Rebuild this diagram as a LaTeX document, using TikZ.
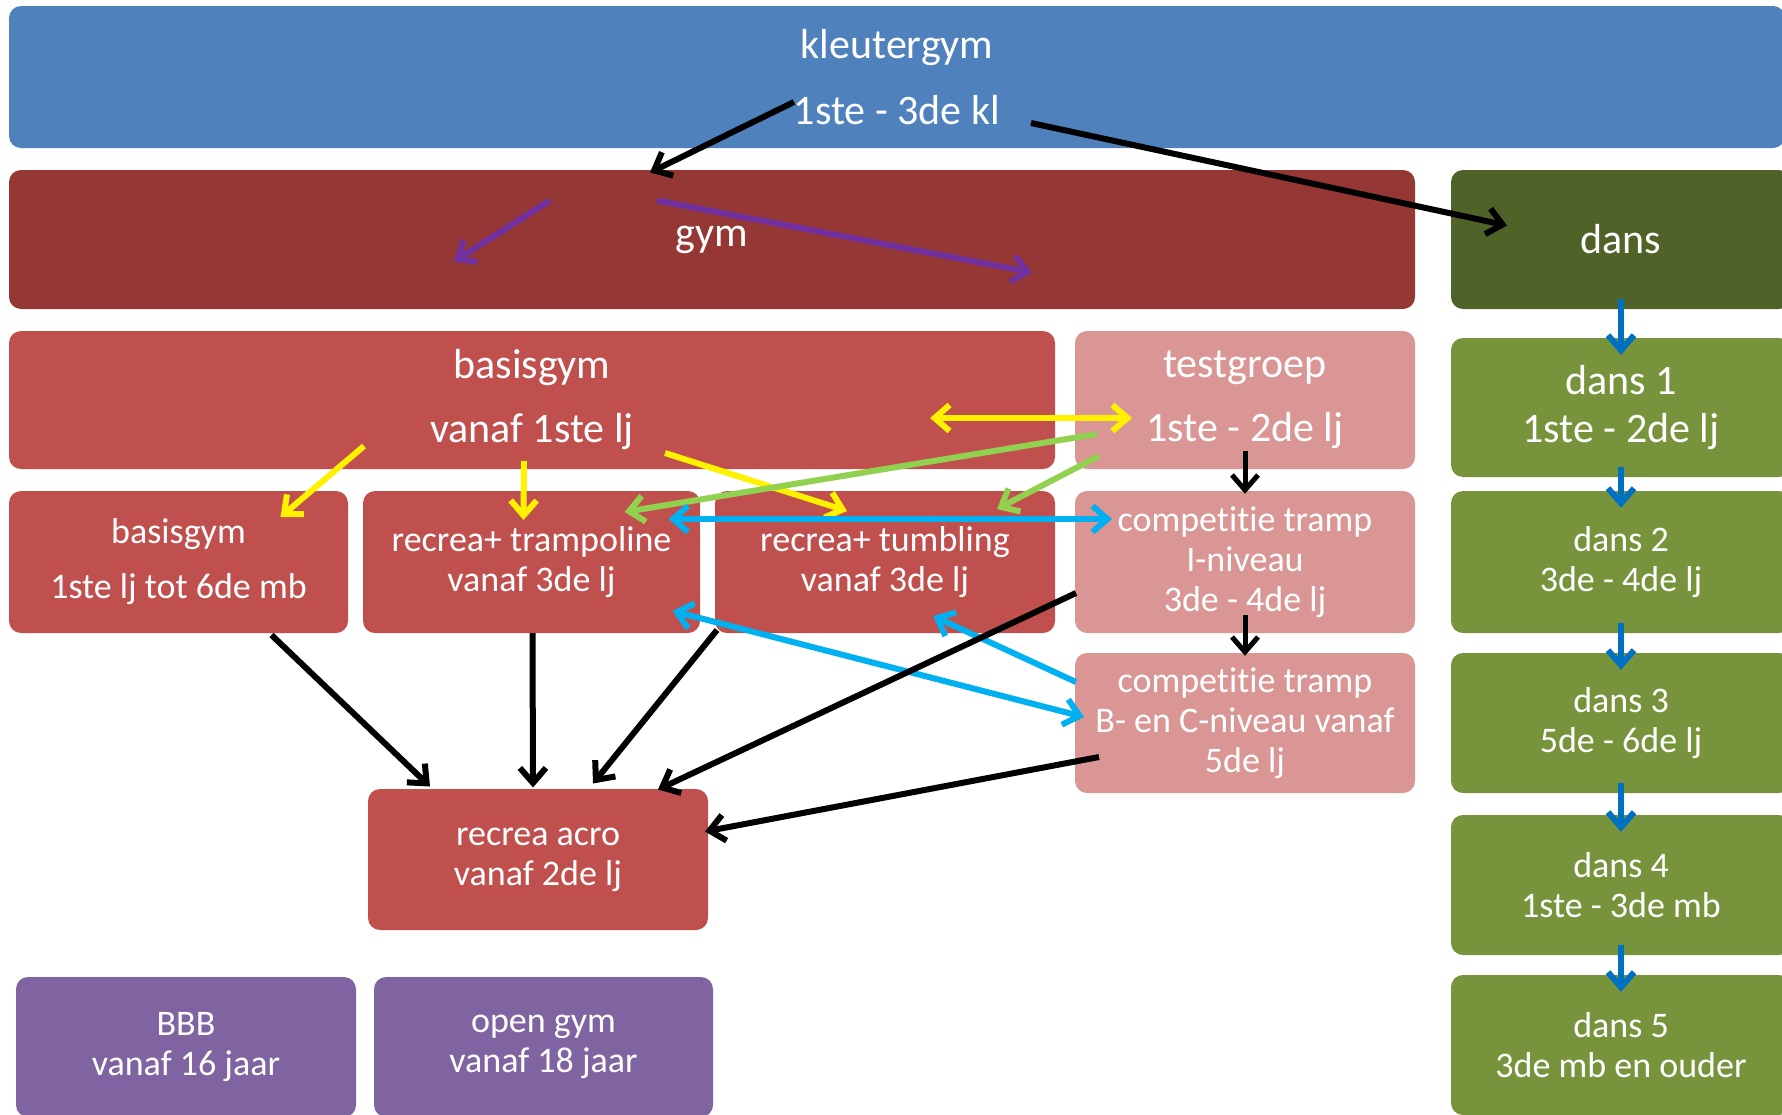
\documentclass[tikz,border=0pt]{standalone}
\usepackage{fontspec}
\setmainfont[Ligatures=NoCommon]{Carlito}
\usetikzlibrary{graphs}
\usetikzlibrary{arrows.meta}

\definecolor{klblue}{HTML}{4F81BD}
\definecolor{gymred}{HTML}{953735}
\definecolor{dansgreen}{HTML}{4F6228}
\definecolor{basisred}{HTML}{C0504D}
\definecolor{testpink}{HTML}{D99694}
\definecolor{levelgreen}{HTML}{77933C}
\definecolor{oldpurple}{HTML}{8064A2}
\definecolor{arrpurple}{HTML}{7030A0}
\definecolor{arrgreen}{HTML}{92D050}
\definecolor{arrcyan}{HTML}{00B0F0}
\definecolor{arrblue}{HTML}{0070C0}

\newcommand\bigtxt{\fontsize{42}{48}\selectfont}
\newcommand\smalltxt{\fontsize{36}{40}\selectfont}

\begin{document}
\begin{tikzpicture} [x=1pt, y=-1pt,
        every node/.style={rounded corners=12pt, text=white, align=center, inner sep=0pt,
            minimum width=340pt, minimum height=140pt, font=\smalltxt},
        big/.style={font=\bigtxt},
        bluebox/.style={fill=klblue},
        gymbox/.style={fill=gymred},
        dansbox/.style={fill=dansgreen},
        redbox/.style={fill=basisred},
        pinkbox/.style={fill=testpink},
        greenbox/.style={fill=levelgreen},
        purplebox/.style={fill=oldpurple},
        >={Straight Barb[length=15pt,width=26pt]},
        blackarr/.style={draw=black, line width=6pt},
        purplearr/.style={draw=arrpurple, line width=6pt},
        yellowarr/.style={draw=yellow, line width=6pt},
        greenarr/.style={draw=arrgreen, line width=6pt},
        cyanarr/.style={draw=arrcyan, line width=6pt}]
            \useasboundingbox (0,0) rectangle (1782,1114);
            \clip (0,0) rectangle (1782,1114);

            \node[bluebox, big, minimum width=1776pt, minimum height=142pt] (kl) at (897, 77) {kleutergym\\[18pt]1ste - 3de kl};
            \node[gymbox, big, minimum width=1406pt, minimum height=139pt] (gym) at (712, 239.5) {gym};
            \node[dansbox, big, minimum height=139pt] (dans) at (1621, 239.5) {dans};

            \node[redbox, big, minimum width=1046pt, minimum height=138pt] (basis) at (532, 400) {basisgym\\[16pt]vanaf 1ste lj};
            \node[pinkbox, big, minimum height=138pt] (test) at (1245, 400) {testgroep\\[16pt]1ste - 2de lj};
            \node[greenbox, big, minimum height=139pt] (d1) at (1621, 407.5) {dans 1\\1ste - 2de lj};

            \node[redbox, minimum width=339pt, minimum height=142pt] (bg) at (178.5, 562) {basisgym\\[15pt]1ste lj tot 6de mb};
            \node[redbox, minimum width=337pt, minimum height=142pt] (tramp) at (531.5, 562) {recrea+ trampoline\\vanaf 3de lj};
            \node[redbox, minimum height=142pt] (tumb) at (885, 562) {recrea+ tumbling\\vanaf 3de lj};
            \node[pinkbox, minimum height=142pt] (c1) at (1245, 562) {competitie tramp\\I-niveau\\3de - 4de lj};
            \node[greenbox, minimum height=142pt] (d2) at (1621, 562) {dans 2\\3de - 4de lj};

            \node[pinkbox] (c2) at (1245, 723) {competitie tramp\\B- en C-niveau vanaf\\5de lj};
            \node[greenbox] (d3) at (1621, 723) {dans 3\\5de - 6de lj};
            \node[redbox, minimum height=141pt] (acro) at (538, 859.5) {recrea acro\\vanaf 2de lj};
            \node[greenbox] (d4) at (1621, 885) {dans 4\\1ste - 3de mb};

            \node[purplebox] (bbb) at (186, 1047) {BBB\\vanaf 16 jaar};
            \node[purplebox, minimum width=339pt] (open) at (543.5, 1047) {open gym\\vanaf 18 jaar};
            \node[greenbox] (d5) at (1621, 1045) {dans 5\\3de mb en ouder};

            \draw[blackarr, ->] ([shift={(-103,25)}]kl.center) -- ([shift={(-62,-67)}]gym.center);
            \draw[blackarr, ->] ([shift={(134,46)}]kl.center) -- ([shift={(-114,-14)}]dans.center);
            \draw[purplearr, ->] ([shift={(-162,-39)}]gym.center) -- ([shift={(-258,22)}]gym.center);
            \draw[purplearr, ->] ([shift={(-55,-39)}]gym.center) -- ([shift={(320,33)}]gym.center);

            \draw[yellowarr, <->] ([shift={(398,18)}]basis.center) -- ([shift={(-113,18)}]test.center);
            \draw[yellowarr, ->] ([shift={(-168,46)}]basis.center) -- ([shift={(102,-45)}]bg.center);
            \draw[yellowarr, ->] ([shift={(-8,61)}]basis.center) -- ([shift={(-8,-42)}]tramp.center);
            \draw[yellowarr, ->] ([shift={(133,53)}]basis.center) -- ([shift={(-38,-51)}]tumb.center);
            \draw[greenarr, ->] ([shift={(-148,34)}]test.center) -- ([shift={(93,-50)}]tramp.center);
            \draw[greenarr, ->] ([shift={(-146,56)}]test.center) -- ([shift={(112,-53)}]tumb.center);

            \draw[cyanarr, <->] ([shift={(137,-43)}]tramp.center) -- ([shift={(-133,-43)}]c1.center);
            \draw[cyanarr, <->] ([shift={(141,49)}]tramp.center) -- ([shift={(-161,-6)}]c2.center);
            \draw[cyanarr, ->] ([shift={(-169,-41)}]c2.center) -- ([shift={(48,54)}]tumb.center);

            \draw[blackarr, ->] ([shift={(93,73)}]bg.center) -- ([shift={(-108,-73)}]acro.center);
            \draw[blackarr, ->] ([shift={(1,71)}]tramp.center) -- ([shift={(-5,-72)}]acro.center);
            \draw[blackarr, ->] ([shift={(-168,68)}]tumb.center) -- ([shift={(55,-76)}]acro.center);
            \draw[blackarr, ->] ([shift={(-169,31)}]c1.center) -- ([shift={(120,-70)}]acro.center);
            \draw[blackarr, ->] ([shift={(-146,34)}]c2.center) -- ([shift={(167,-28)}]acro.center);

            \graph[edges={draw=black, line width=5pt, shorten <=-18pt, shorten >=-3pt}] {
                (test) -> (c1) -> (c2);
            };
            \graph[edges={draw=arrblue, line width=6pt, shorten <=-10pt, shorten >=-17pt}] {
                (dans) -> (d1) -> (d2) -> (d3) -> (d4) -> (d5);
            };
        \end{tikzpicture}
\end{document}
